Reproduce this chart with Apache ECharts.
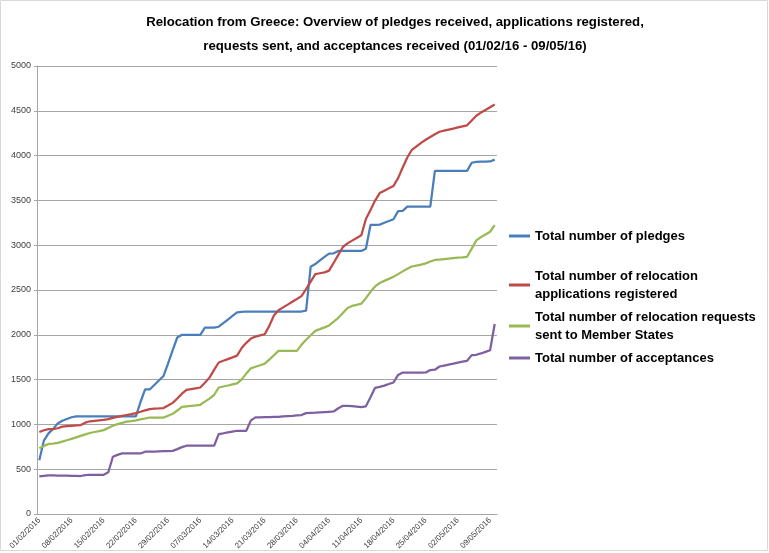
<!DOCTYPE html>
<html><head><meta charset="utf-8">
<script src="https://cdn.jsdelivr.net/npm/echarts@6/dist/echarts.min.js"></script>
<style>html,body{margin:0;padding:0;background:#fff}#c{width:769px;height:553px}</style>
</head><body><div id="c"></div>
<script>
// Dates: 01/02/2016 .. 10/05/2016 (100 days)
const startDate = new Date(Date.UTC(2016, 1, 1));
const categories = [];
for (let i = 0; i < 100; i++) {
  const d = new Date(startDate.getTime() + i * 86400000);
  const dd = String(d.getUTCDate()).padStart(2, '0');
  const mm = String(d.getUTCMonth() + 1).padStart(2, '0');
  categories.push(dd + '/' + mm + '/' + d.getUTCFullYear());
}
const yTicks = [0, 500, 1000, 1500, 2000, 2500, 3000, 3500, 4000, 4500, 5000];

const pledges = [600,820,900,950,1010,1040,1060,1080,1090,1090,
1090,1090,1090,1090,1090,1090,1090,1090,1090,1090,
1090,1090,1250,1390,1390,1440,1490,1540,1680,1830,
1970,2000,2000,2000,2000,2000,2080,2080,2080,2090,
2130,2170,2210,2250,2255,2260,2260,2260,2260,2260,
2260,2260,2260,2260,2260,2260,2260,2260,2270,2760,
2790,2830,2870,2906,2910,2936,2936,2936,2936,2936,
2936,2960,3226,3226,3230,3250,3270,3290,3380,3383,
3430,3430,3430,3430,3430,3430,3829,3829,3829,3829,
3829,3829,3829,3829,3920,3930,3932,3932,3935,3955];

const applications = [915,935,948,948,957,975,980,984,988,993,
1019,1035,1040,1045,1050,1059,1073,1084,1095,1105,
1115,1126,1141,1157,1171,1175,1178,1182,1210,1240,
1289,1343,1385,1394,1403,1412,1464,1522,1608,1691,
1710,1729,1748,1768,1853,1910,1958,1980,1993,2006,
2100,2215,2274,2306,2337,2369,2400,2432,2510,2594,
2677,2687,2697,2716,2804,2892,2980,3020,3051,3081,
3110,3292,3394,3498,3582,3609,3635,3662,3749,3867,
3979,4065,4104,4142,4177,4208,4239,4266,4278,4290,
4302,4314,4326,4338,4391,4445,4480,4510,4540,4570];

const requests = [735,760,782,785,793,808,823,838,855,872,
889,904,915,925,936,959,985,1003,1017,1030,
1037,1045,1055,1066,1077,1077,1077,1077,1097,1118,
1155,1196,1202,1208,1213,1219,1254,1288,1328,1412,
1423,1434,1446,1457,1503,1567,1626,1643,1660,1678,
1723,1772,1820,1821,1821,1821,1821,1888,1944,1995,
2044,2063,2083,2104,2147,2190,2244,2299,2322,2334,
2347,2409,2480,2540,2578,2602,2624,2647,2677,2708,
2738,2762,2773,2784,2797,2818,2835,2840,2845,2850,
2855,2860,2865,2871,2962,3053,3090,3120,3150,3225];

const acceptances = [420,426,430,430,429,428,427,426,425,424,
433,438,438,438,438,466,639,660,676,676,
676,676,676,695,696,697,699,701,703,705,
724,746,762,762,762,762,762,762,762,892,
901,911,920,929,929,929,1045,1078,1079,1081,
1082,1084,1085,1089,1093,1096,1100,1104,1126,1129,
1132,1135,1138,1141,1144,1180,1208,1208,1204,1199,
1194,1202,1302,1408,1419,1433,1451,1468,1552,1579,
1579,1579,1579,1579,1580,1606,1610,1646,1657,1668,
1678,1689,1700,1710,1773,1777,1792,1810,1828,2120];

const seriesNames = [
  'Total number of pledges',
  'Total number of relocation\napplications registered',
  'Total number of relocation requests\nsent to Member States',
  'Total number of acceptances'
];
const colors = ['#4a7ebb', '#be4b48', '#98b954', '#7d60a0'];
const seriesData = [pledges, applications, requests, acceptances];
const legendTops = [227, 267, 308, 349];

const chart = echarts.init(document.getElementById('c'));
chart.setOption({
  animation: false,
  backgroundColor: '#fff',
  title: {
    text: 'Relocation from Greece: Overview of pledges received, applications registered,\nrequests sent, and acceptances received (01/02/16 - 09/05/16)',
    left: 390, top: 5, textAlign: 'center',
    textStyle: { fontFamily: 'Liberation Sans', fontWeight: 'bold', fontSize: 13.2, lineHeight: 24, color: '#000' }
  },
  grid: { left: 37, right: 272, top: 66, bottom: 39 },
  legend: seriesNames.map((n, k) => ({
    orient: 'vertical', left: 509, top: legendTops[k], padding: 0,
    itemWidth: 21, itemHeight: 3, icon: 'rect', itemGap: 0,
    textStyle: { fontFamily: 'Liberation Sans', fontWeight: 'bold', fontSize: 13, lineHeight: 18, color: '#000' },
    data: [n]
  })),
  xAxis: {
    type: 'category', data: categories, boundaryGap: true,
    axisLine: { lineStyle: { color: '#a6a6a6', width: 1 } },
    axisTick: { interval: 6, length: 4, lineStyle: { color: '#a6a6a6' } },
    axisLabel: { interval: 6, rotate: 45, fontSize: 8, color: '#404040', fontFamily: 'Liberation Sans', margin: 5 },
    splitLine: { show: false }
  },
  yAxis: {
    type: 'value', min: yTicks[0], max: yTicks[yTicks.length - 1], interval: 500,
    axisLine: { show: true, lineStyle: { color: '#a6a6a6', width: 1 } },
    axisTick: { show: true, length: 3, lineStyle: { color: '#a6a6a6' } },
    axisLabel: { fontSize: 9, color: '#404040', fontFamily: 'Liberation Sans', margin: 6, formatter: v => String(v) },
    splitLine: { lineStyle: { color: '#a6a6a6', width: 1 } }
  },
  series: seriesData.map((d, k) => ({
    name: seriesNames[k], type: 'line', data: d, showSymbol: false, symbol: 'none',
    lineStyle: { color: colors[k], width: 2.25 }, itemStyle: { color: colors[k] }
  })),
  graphic: [{
    type: 'rect', shape: { x: 0.5, y: 0.5, width: 767, height: 550 },
    style: { fill: 'none', stroke: '#d9d9d9', lineWidth: 1 }, silent: true
  }]
});
</script></body></html>
